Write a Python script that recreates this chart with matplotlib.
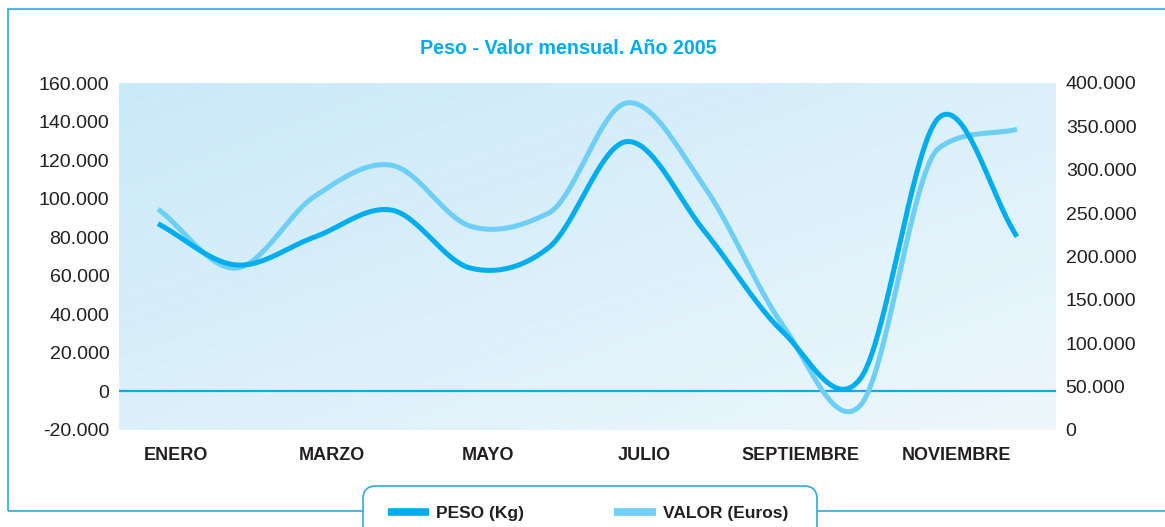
import numpy as np
import matplotlib
matplotlib.use("Agg")
import matplotlib.pyplot as plt
import matplotlib.transforms as mtransforms
from matplotlib.lines import Line2D
from matplotlib.patches import Rectangle, FancyBboxPatch

plt.rcParams['font.family'] = ['Liberation Sans', 'DejaVu Sans']

# data
meses = ["ENERO", "FEBRERO", "MARZO", "ABRIL", "MAYO", "JUNIO", "JULIO",
         "AGOSTO", "SEPTIEMBRE", "OCTUBRE", "NOVIEMBRE", "DICIEMBRE"]
peso_kg = [87000, 65600, 80000, 94000, 64000, 74500, 129600, 83000, 31000, 7000, 142000, 80300]
valor_eur = [254700, 186700, 269000, 305000, 235000, 250000, 377000, 280000, 121000, 29000, 325000, 346600]

ticks_izq = [-20000, 0, 20000, 40000, 60000, 80000, 100000, 120000, 140000, 160000]
ticks_der = [0, 50000, 100000, 150000, 200000, 250000, 300000, 350000, 400000]

AZUL = "#00AEEF"
CELESTE = "#6DCFF6"
GRIS = "#231F20"
BORDE = "#29ABE2"


def miles(v):
    return f"{v:,.0f}".replace(",", ".")


def suavizar(y, n=40):
    # bezier smoothing, tangents limited where the curve is monotone
    y = np.asarray(y, dtype=float)
    npts = len(y)
    m = np.zeros(npts)
    for j in range(npts):
        a = y[max(j - 1, 0)]
        b = y[min(j + 1, npts - 1)]
        m[j] = (b - a) / 2 if 0 < j < npts - 1 else (b - a)
        if 0 < j < npts - 1 and (y[j] - a) * (b - y[j]) > 0:
            lim = 3 * min(abs(y[j] - a), abs(b - y[j]))
            m[j] = np.sign(m[j]) * min(abs(m[j]), lim)
    xs, ys = [], []
    t = np.linspace(0, 1, n)
    for i in range(npts - 1):
        p0, p3 = y[i], y[i + 1]
        c1 = p0 + m[i] / 3
        c2 = p3 - m[i + 1] / 3
        ys.append((1 - t) ** 3 * p0 + 3 * (1 - t) ** 2 * t * c1
                  + 3 * (1 - t) * t ** 2 * c2 + t ** 3 * p3)
        xs.append(i + t)
    return np.concatenate(xs), np.concatenate(ys)


fig = plt.figure(figsize=(11.65, 5.27), dpi=100)

# outer frame
fig.add_artist(Rectangle((8 / 1165, 1 - 511 / 527), 1.2, (511 - 9) / 527,
                         transform=fig.transFigure, fill=False,
                         edgecolor=BORDE, linewidth=1.2))

ax = fig.add_axes([119 / 1165, 1 - 430 / 527, 937 / 1165, 347 / 527])
ax2 = ax.twinx()

# gradient background
gx, gy = np.meshgrid(np.linspace(0, 1, 200), np.linspace(0, 1, 100))
grad = (gx + gy) / 2
ax.imshow(grad, extent=[0, 1, 0, 1], transform=ax.transAxes, origin="upper",
          cmap=matplotlib.colors.LinearSegmentedColormap.from_list("bg", ["#CAE9F8", "#EDF7FC"]),
          aspect="auto", zorder=0)
for k in np.arange(-1.0, 1.2, 0.06):
    ax.plot([0, 1], [k, k + 0.9], transform=ax.transAxes, color="white",
            lw=0.6, alpha=0.25, ls=(0, (4, 3)), zorder=0.5)

ax.axhline(0, color=AZUL, lw=1.6, zorder=1)

xp, yp = suavizar(peso_kg)
xv, yv = suavizar(valor_eur)
ax2.plot(xv, yv, color=CELESTE, lw=3.6, solid_capstyle="butt", zorder=2)
ax2.plot(xp, np.interp(yp, [-20000, 160000], [0, 400000]), color=AZUL, lw=3.6,
         solid_capstyle="butt", zorder=3)

ax.set_xlim(-0.5, 11.5)
ax.set_ylim(-20000, 160000)
ax2.set_ylim(0, 400000)

ax.set_yticks(ticks_izq)
ax.set_yticklabels([miles(v) for v in ticks_izq], fontsize=14, color=GRIS)
ax2.set_yticks(ticks_der)
ax2.set_yticklabels([miles(v) for v in ticks_der], fontsize=14, color=GRIS)
ax.tick_params(axis="y", length=0, pad=7)
ax2.tick_params(axis="y", length=0, pad=7)

ax.set_xticks(range(0, 12, 2))
ax.set_xticklabels(meses[::2], fontsize=13, fontweight="bold", color=GRIS)
ax.tick_params(axis="x", length=0, pad=12)
desplaza = mtransforms.ScaledTranslation(18 / 100, 0, fig.dpi_scale_trans)
for lab in ax.get_xticklabels():
    lab.set_transform(lab.get_transform() + desplaza)

for a in (ax, ax2):
    for s in a.spines.values():
        s.set_visible(False)

fig.text(568 / 1165, 1 - 49 / 527, "Peso - Valor mensual. Año 2005", ha="center",
         va="center", fontsize=14.2, fontweight="bold", color=AZUL)

# legend box, open at the bottom edge of the picture
caja = FancyBboxPatch((363, -30), 817 - 363, 527 - 486 + 30,
                      boxstyle="round,pad=0,rounding_size=13",
                      transform=mtransforms.IdentityTransform(),
                      facecolor="white", edgecolor=BORDE, linewidth=1.2)
fig.add_artist(caja)

handles = [Line2D([], [], color=AZUL, lw=5.5, solid_capstyle="butt"),
           Line2D([], [], color=CELESTE, lw=5.5, solid_capstyle="butt")]
leg = fig.legend(handles, ["PESO (Kg)", "VALOR (Euros)"], loc="center",
                 bbox_to_anchor=(588 / 1165, 1 - 513 / 527), ncol=2,
                 prop={"size": 12.5, "weight": "bold"}, handlelength=2.4,
                 handletextpad=0.4, columnspacing=5.2, borderpad=0,
                 frameon=False)
for t in leg.get_texts():
    t.set_color(GRIS)

fig.savefig("out.png", dpi=100)
